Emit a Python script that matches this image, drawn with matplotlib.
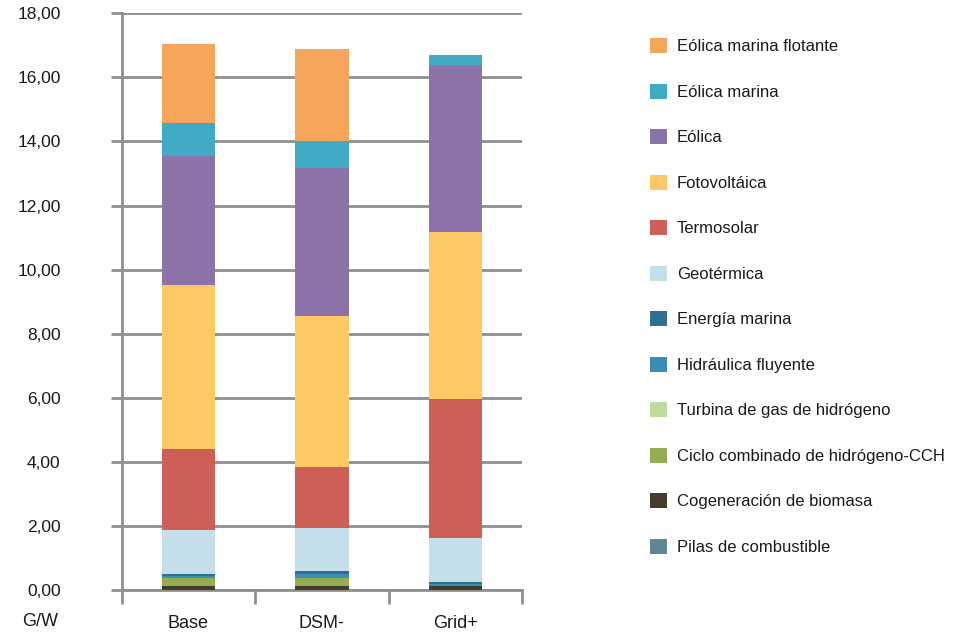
import matplotlib
matplotlib.use("Agg")
import matplotlib.pyplot as plt
from matplotlib.patches import Patch
import numpy as np

plt.rcParams['font.family'] = ['Liberation Sans', 'DejaVu Sans']

categories = ["Base", "DSM-", "Grid+"]

# series, bottom to top
series_names = [
    "Pilas de combustible",
    "Cogeneración de biomasa",
    "Ciclo combinado de hidrógeno-CCH",
    "Turbina de gas de hidrógeno",
    "Hidráulica fluyente",
    "Energía marina",
    "Geotérmica",
    "Termosolar",
    "Fotovoltáica",
    "Eólica",
    "Eólica marina",
    "Eólica marina flotante",
]
pilas        = [0.00, 0.00, 0.00]
biomasa      = [0.11, 0.13, 0.11]
cch          = [0.27, 0.25, 0.00]
turbina      = [0.00, 0.00, 0.00]
hidraulica   = [0.06, 0.12, 0.08]
marina       = [0.05, 0.08, 0.07]
geotermica   = [1.38, 1.35, 1.37]
termosolar   = [2.52, 1.90, 4.32]
fotovoltaica = [5.14, 4.71, 5.23]
eolica       = [4.01, 4.64, 5.20]
eolica_mar   = [1.03, 0.83, 0.31]
flotante     = [2.46, 2.87, 0.00]

values = [pilas, biomasa, cch, turbina, hidraulica, marina, geotermica,
          termosolar, fotovoltaica, eolica, eolica_mar, flotante]

colors = ["#5E8796", "#463E2A", "#93AD55", "#BDDC9E", "#3A8DB5", "#2E7091",
          "#C4DFEA", "#CD5F57", "#FDC964", "#8B73A9", "#41AAC4", "#F5A65B"]

yticks = [0, 2, 4, 6, 8, 10, 12, 14, 16, 18]
ytick_labels = ["0,00", "2,00", "4,00", "6,00", "8,00", "10,00", "12,00",
                "14,00", "16,00", "18,00"]

W, H = 968, 637
fig = plt.figure(figsize=(W / 100, H / 100), dpi=100)
left, right, top, bottom = 121.7, 522, 13.3, 590
ax = fig.add_axes([left / W, 1 - bottom / H, (right - left) / W, (bottom - top) / H])

x = np.arange(len(categories))
cum = np.zeros(len(categories))
for name, vals, c in zip(series_names, values, colors):
    v = np.array(vals)
    ax.bar(x, v, bottom=cum, width=0.4, color=c, linewidth=0, zorder=3, label=name)
    cum += v

gray = "#8f8f8f"
txt = "#1a1a1a"
ax.set_xlim(-0.5, 2.5)
ax.set_ylim(0, 18)
ax.set_yticks(yticks)
ax.set_yticklabels(ytick_labels)
ax.yaxis.grid(True, color=gray, linewidth=2, zorder=0)
ax.set_axisbelow(True)
for s in ["top", "right"]:
    ax.spines[s].set_visible(False)
for s in ["left", "bottom"]:
    ax.spines[s].set_color(gray)
    ax.spines[s].set_linewidth(2)
ax.tick_params(axis='y', length=8, width=2, color=gray, pad=36, labelsize=12.5, labelcolor=txt)
ax.set_xticks(x)
ax.set_xticklabels(categories)
ax.set_xticks([-0.5, 0.5, 1.5, 2.5], minor=True)
ax.tick_params(axis='x', which='major', length=0, pad=18, labelsize=13, labelcolor=txt)
ax.tick_params(axis='x', which='minor', length=10, width=2, color=gray)

fig.text(22 / W, 1 - 622 / H, "G/W", fontsize=13, color=txt, va='center', ha='left')

handles = [Patch(facecolor=c, edgecolor='none') for c in colors[::-1]]
labels = series_names[::-1]
fig.legend(handles, labels, loc='upper left', bbox_to_anchor=(650 / W, 1 - 38 / H),
           frameon=False, fontsize=12, labelspacing=1.745, handlelength=1.02,
           handleheight=1.05, handletextpad=0.6, borderaxespad=0, borderpad=0,
           labelcolor=txt)

fig.savefig("out.png", dpi=100)
